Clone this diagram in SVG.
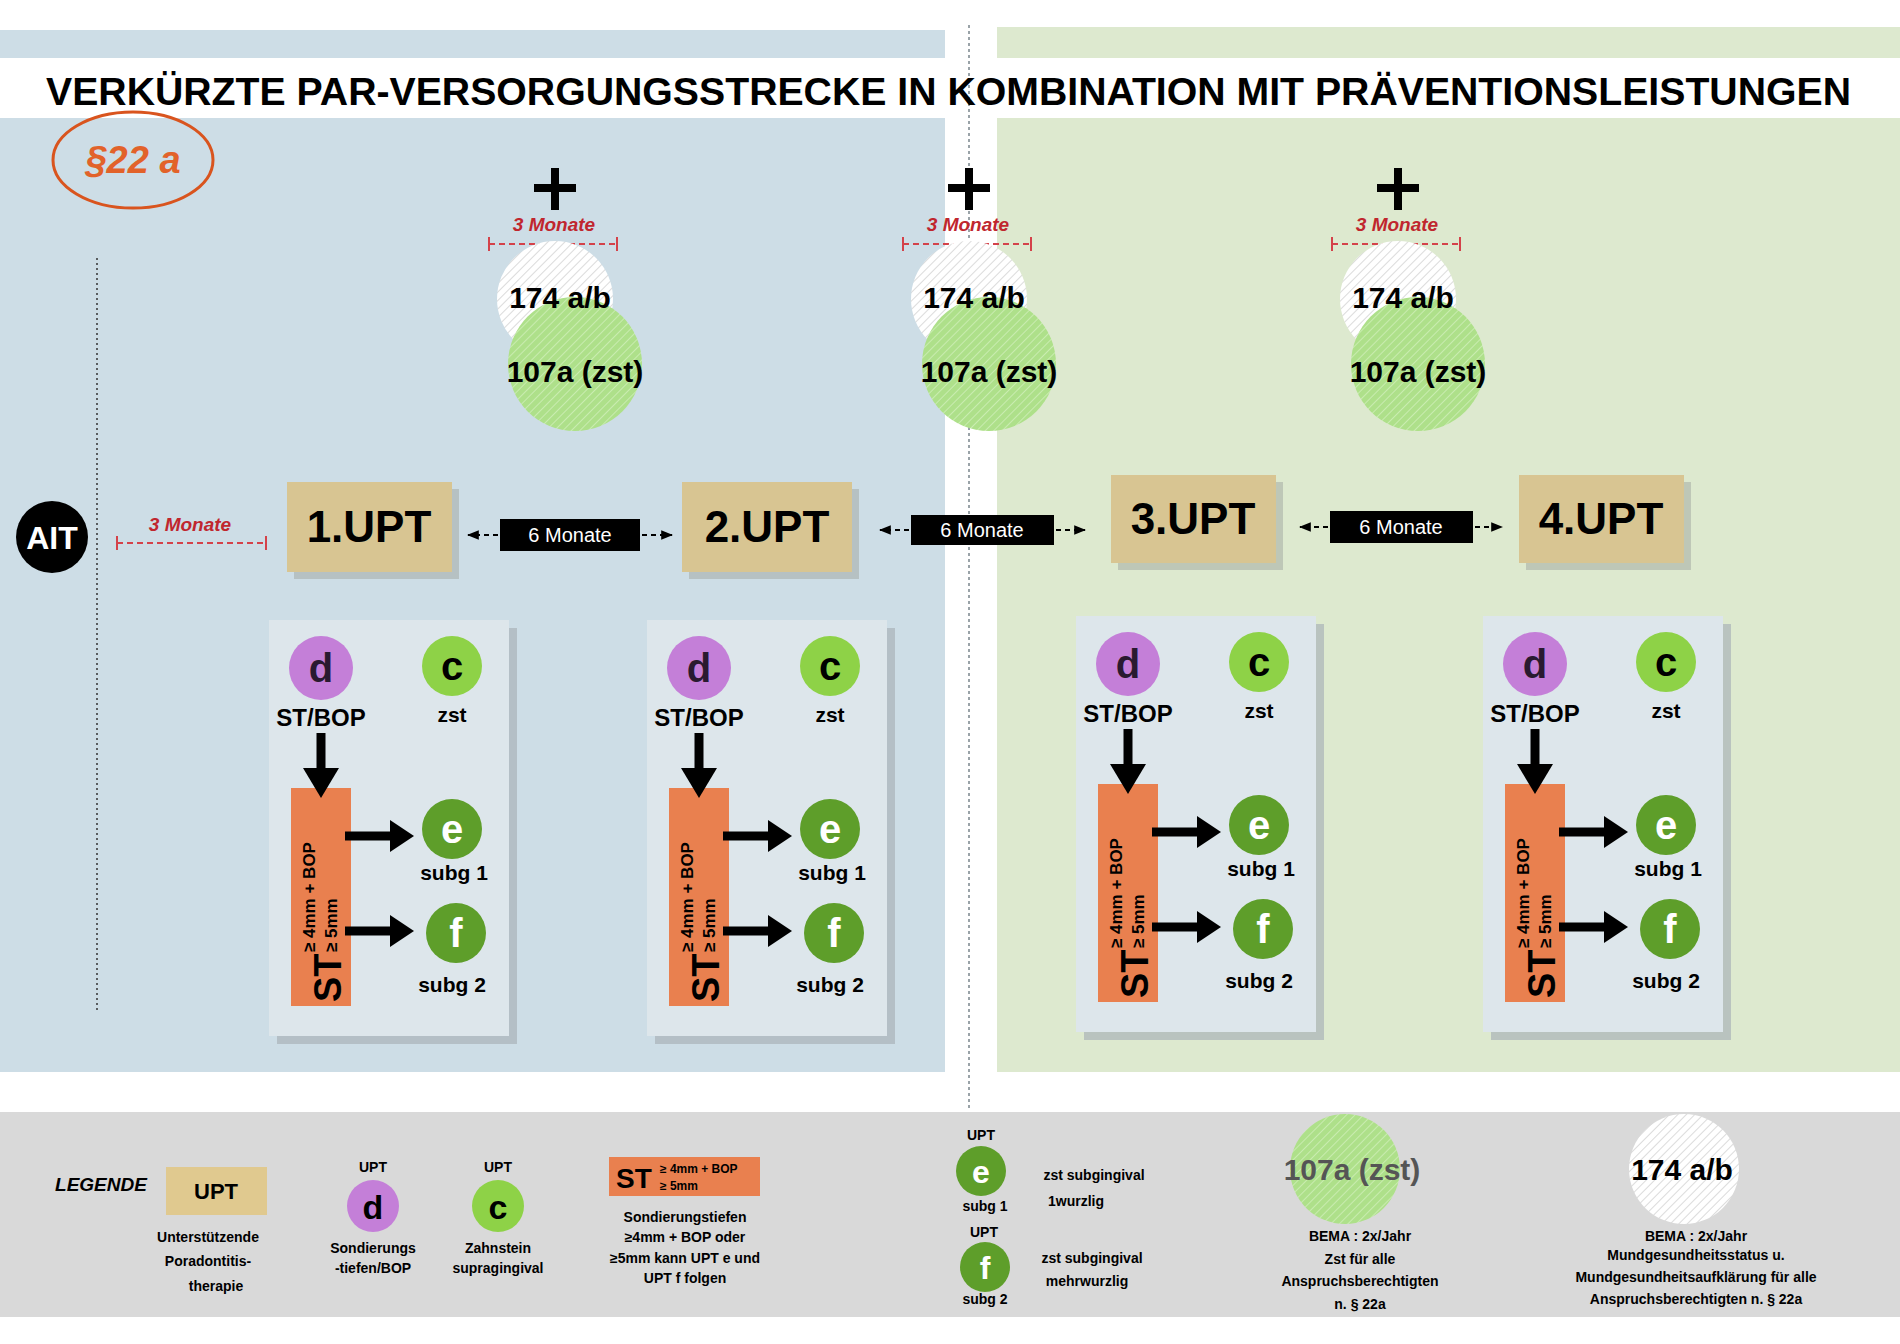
<svg xmlns="http://www.w3.org/2000/svg" width="1900" height="1344" viewBox="0 0 1900 1344">
<defs>
<style>
text{font-family:"Liberation Sans","DejaVu Sans",sans-serif;font-weight:bold;}
.c{text-anchor:middle}
.upt{fill:#d8c592}
.red{fill:#c0262e;font-style:italic;font-size:19px}
.rdash{stroke:#d4424a;stroke-width:2;stroke-dasharray:6 4;fill:none}
.rend{stroke:#d4424a;stroke-width:2}
.blk{stroke:#000;stroke-width:2;stroke-dasharray:5 4;fill:none}
.lbl{fill:#fff;font-weight:normal;font-size:20px}
.big{font-size:30px}
.leg{font-size:14px}
</style>
<pattern id="hw" width="6" height="6" patternUnits="userSpaceOnUse" patternTransform="rotate(45)">
<rect width="6" height="6" fill="#ffffff"/><line x1="0" y1="0" x2="0" y2="6" stroke="#d0d0d0" stroke-width="1.5"/>
</pattern>
<pattern id="hg" width="6" height="6" patternUnits="userSpaceOnUse" patternTransform="rotate(45)">
<rect width="6" height="6" fill="#aee08a"/><line x1="0" y1="0" x2="0" y2="6" stroke="#c9ecb0" stroke-width="2"/>
</pattern>
<marker id="ah" viewBox="0 0 10 10" refX="9" refY="5" markerWidth="6" markerHeight="6" orient="auto-start-reverse"><path d="M0,1 L10,5 L0,9 z" fill="#000"/></marker>
<g id="panel">
<rect x="277" y="628" width="240" height="416" fill="#a9b2b8" opacity="0.7"/>
<rect x="269" y="620" width="240" height="416" fill="#dde6eb"/>
<circle cx="321" cy="668" r="32" fill="#c47fd8"/>
<text x="321" y="682" class="c" font-size="40" fill="#2a1a30">d</text>
<circle cx="452" cy="666" r="30" fill="#8ed247"/>
<text x="452" y="680" class="c" font-size="40">c</text>
<text x="321" y="726" class="c" font-size="24">ST/BOP</text>
<text x="452" y="722" class="c" font-size="21">zst</text>
<rect x="291" y="788" width="60" height="218" fill="#e9804f"/>
<path d="M321,733 V770" stroke="#000" stroke-width="9"/>
<path d="M303,768 L339,768 L321,798 z" fill="#000"/>
<path d="M345,836 H392" stroke="#000" stroke-width="9"/>
<path d="M390,820 L414,836 L390,852 z" fill="#000"/>
<path d="M345,931 H392" stroke="#000" stroke-width="9"/>
<path d="M390,915 L414,931 L390,947 z" fill="#000"/>
<g transform="translate(321,1004) rotate(-90)">
<text x="2" y="20" font-size="38">ST</text>
<text x="52" y="-6" font-size="17">≥ 4mm + BOP</text>
<text x="52" y="16" font-size="17">≥ 5mm</text>
</g>
<circle cx="452" cy="829" r="30" fill="#5e9e2a"/>
<text x="452" y="843" class="c" font-size="40" fill="#fff">e</text>
<text x="454" y="880" class="c" font-size="21">subg 1</text>
<circle cx="456" cy="933" r="30" fill="#5e9e2a"/>
<text x="456" y="947" class="c" font-size="40" fill="#fff">f</text>
<text x="452" y="992" class="c" font-size="21">subg 2</text>
</g>
<g id="combo">
<path d="M555,168 V210 M534,188 H576" stroke="#000" stroke-width="8"/>
<text x="554" y="231" class="c red">3 Monate</text>
<path d="M489,244 H617" class="rdash"/>
<path d="M489,237 V251 M617,237 V251" class="rend"/>
<circle cx="555" cy="299" r="58" fill="url(#hw)"/>
<circle cx="575" cy="364" r="67" fill="url(#hg)"/>
<text x="560" y="308" class="c big">174 a/b</text>
<text x="575" y="382" class="c big">107a (zst)</text>
</g>
</defs>

<rect width="1900" height="1344" fill="#ffffff"/>
<rect x="0" y="30" width="945" height="1042" fill="#cddde6"/>
<rect x="997" y="27" width="903" height="1045" fill="#dde9cf"/>
<rect x="0" y="58" width="1900" height="60" fill="#ffffff"/>
<line x1="969" y1="25" x2="969" y2="1110" stroke="#9aa3a8" stroke-width="2" stroke-dasharray="3 3"/>
<line x1="97" y1="258" x2="97" y2="1012" stroke="#333" stroke-width="1.5" stroke-dasharray="2 3"/>

<g id="title"><text x="46" y="105" font-size="38" textLength="1805" lengthAdjust="spacingAndGlyphs">VERKÜRZTE PAR-VERSORGUNGSSTRECKE IN KOMBINATION MIT PRÄVENTIONSLEISTUNGEN</text></g>

<g id="par22a">
<ellipse cx="133" cy="160" rx="80" ry="48" fill="none" stroke="#d9541e" stroke-width="3"/>
<text x="133" y="173" class="c" font-size="38" fill="#e2622a" font-style="italic">§22 a</text>
</g>

<g id="ait">
<circle cx="52" cy="537" r="36" fill="#000"/>
<text x="52" y="549" class="c" font-size="32" fill="#fff">AIT</text>
</g>
<g id="m3left">
<text x="190" y="531" class="c red">3 Monate</text>
<path d="M117,543 H266" class="rdash"/>
<path d="M117,536 V550 M266,536 V550" class="rend"/>
</g>

<g id="combo1"><use href="#combo"/></g>
<g id="combo2"><use href="#combo" transform="translate(414,0)"/></g>
<g id="combo3"><use href="#combo" transform="translate(843,0)"/></g>

<g id="upt1"><rect x="294" y="489" width="165" height="90" fill="#9fa6a0" opacity="0.5"/><rect x="287" y="482" width="165" height="90" class="upt"/><text x="369" y="542" class="c" font-size="44">1.UPT</text></g>
<g id="upt2"><rect x="689" y="489" width="170" height="90" fill="#9fa6a0" opacity="0.5"/><rect x="682" y="482" width="170" height="90" class="upt"/><text x="767" y="542" class="c" font-size="44">2.UPT</text></g>
<g id="upt3"><rect x="1118" y="482" width="165" height="88" fill="#9fa6a0" opacity="0.5"/><rect x="1111" y="475" width="165" height="88" class="upt"/><text x="1193" y="534" class="c" font-size="44">3.UPT</text></g>
<g id="upt4"><rect x="1526" y="482" width="165" height="88" fill="#9fa6a0" opacity="0.5"/><rect x="1519" y="475" width="165" height="88" class="upt"/><text x="1601" y="534" class="c" font-size="44">4.UPT</text></g>

<g id="connectors">
<path d="M498,535 H468" class="blk" marker-end="url(#ah)"/>
<path d="M642,535 H672" class="blk" marker-end="url(#ah)"/>
<path d="M909,530 H880" class="blk" marker-end="url(#ah)"/>
<path d="M1056,530 H1085" class="blk" marker-end="url(#ah)"/>
<path d="M1328,527 H1300" class="blk" marker-end="url(#ah)"/>
<path d="M1475,527 H1502" class="blk" marker-end="url(#ah)"/>
<path d="M770,1250 H810 M810,1179 V1280" stroke="#000" stroke-width="2" fill="none"/>
<path d="M810,1179 H908" stroke="#000" stroke-width="2" marker-end="url(#ah)"/>
<path d="M810,1280 H908" stroke="#000" stroke-width="2" marker-end="url(#ah)"/>
</g>

<g id="m6a"><rect x="500" y="519" width="140" height="32" fill="#000"/><text x="570" y="542" class="c lbl">6 Monate</text></g>
<g id="m6b"><rect x="911" y="515" width="143" height="30" fill="#000"/><text x="982" y="537" class="c lbl">6 Monate</text></g>
<g id="m6c"><rect x="1330" y="511" width="143" height="32" fill="#000"/><text x="1401" y="534" class="c lbl">6 Monate</text></g>

<g id="panel1"><use href="#panel"/></g>
<g id="panel2"><use href="#panel" transform="translate(378,0)"/></g>
<g id="panel3"><use href="#panel" transform="translate(807,-4)"/></g>
<g id="panel4"><use href="#panel" transform="translate(1214,-4)"/></g>

<rect x="0" y="1112" width="1900" height="205" fill="#d9d9d9"/>
<g id="legend">
<text x="101" y="1191" class="c" font-size="19" font-style="italic">LEGENDE</text>
<rect x="166" y="1167" width="101" height="48" fill="#e0c98f"/>
<text x="216" y="1199" class="c" font-size="22">UPT</text>
<text x="208" y="1242" class="c leg">Unterstützende</text>
<text x="208" y="1266" class="c leg">Poradontitis-</text>
<text x="216" y="1291" class="c leg">therapie</text>

<text x="373" y="1172" class="c leg">UPT</text>
<circle cx="373" cy="1206" r="26" fill="#c47fd8"/>
<text x="373" y="1219" class="c" font-size="34">d</text>
<text x="373" y="1253" class="c leg">Sondierungs</text>
<text x="373" y="1273" class="c leg">-tiefen/BOP</text>

<text x="498" y="1172" class="c leg">UPT</text>
<circle cx="498" cy="1206" r="26" fill="#8ed247"/>
<text x="498" y="1219" class="c" font-size="34">c</text>
<text x="498" y="1253" class="c leg">Zahnstein</text>
<text x="498" y="1273" class="c leg">supragingival</text>

<rect x="609" y="1157" width="151" height="39" fill="#e9804f"/>
<text x="616" y="1188" font-size="28">ST</text>
<text x="660" y="1173" font-size="12">≥ 4mm + BOP</text>
<text x="660" y="1190" font-size="12">≥ 5mm</text>
<text x="685" y="1222" class="c leg">Sondierungstiefen</text>
<text x="685" y="1242" class="c leg">≥4mm + BOP oder</text>
<text x="685" y="1263" class="c leg">≥5mm kann UPT e und</text>
<text x="685" y="1283" class="c leg">UPT f folgen</text>

<text x="981" y="1140" class="c leg">UPT</text>
<circle cx="981" cy="1171" r="25" fill="#5e9e2a"/>
<text x="981" y="1183" class="c" font-size="32" fill="#fff">e</text>
<text x="985" y="1211" class="c leg">subg 1</text>
<text x="984" y="1237" class="c leg">UPT</text>
<circle cx="985" cy="1267" r="25" fill="#5e9e2a"/>
<text x="985" y="1279" class="c" font-size="32" fill="#fff">f</text>
<text x="985" y="1304" class="c leg">subg 2</text>
<text x="1094" y="1180" class="c leg" font-weight="normal">zst subgingival</text>
<text x="1076" y="1206" class="c leg" font-weight="normal">1wurzlig</text>
<text x="1092" y="1263" class="c leg" font-weight="normal">zst subgingival</text>
<text x="1087" y="1286" class="c leg" font-weight="normal">mehrwurzlig</text>

<circle cx="1345" cy="1169" r="55" fill="url(#hg)"/>
<text x="1352" y="1180" class="c" font-size="30" fill="#555">107a (zst)</text>
<text x="1360" y="1241" class="c leg">BEMA : 2x/Jahr</text>
<text x="1360" y="1264" class="c leg">Zst für alle</text>
<text x="1360" y="1286" class="c leg">Anspruchsberechtigten</text>
<text x="1360" y="1309" class="c leg">n. § 22a</text>

<circle cx="1684" cy="1169" r="55" fill="url(#hw)"/>
<text x="1682" y="1180" class="c" font-size="30">174 a/b</text>
<text x="1696" y="1241" class="c leg">BEMA : 2x/Jahr</text>
<text x="1696" y="1260" class="c leg">Mundgesundheitsstatus u.</text>
<text x="1696" y="1282" class="c leg">Mundgesundheitsaufklärung für alle</text>
<text x="1696" y="1304" class="c leg">Anspruchsberechtigten n. § 22a</text>
</g>
</svg>
